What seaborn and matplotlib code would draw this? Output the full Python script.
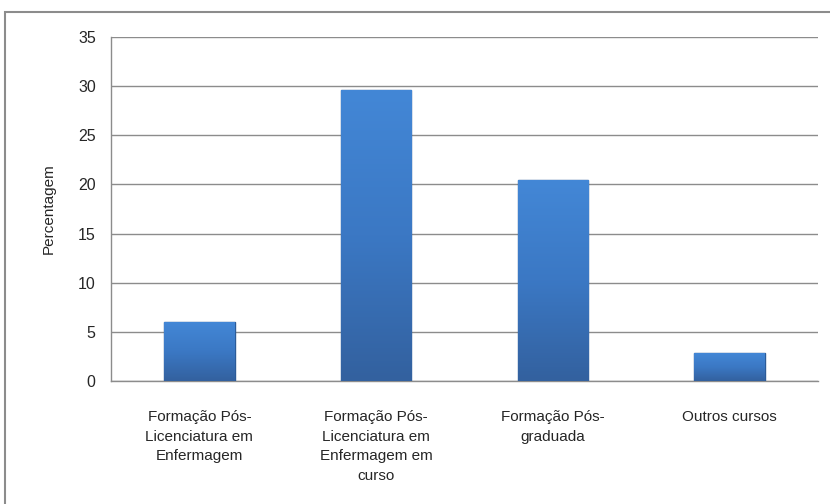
import numpy as np
import pandas as pd
import matplotlib
matplotlib.use('Agg')
import matplotlib.pyplot as plt
from matplotlib.colors import LinearSegmentedColormap
import seaborn as sns

categories = ['Formação Pós-\nLicenciatura em\nEnfermagem',
              'Formação Pós-\nLicenciatura em\nEnfermagem em\ncurso',
              'Formação Pós-\ngraduada',
              'Outros cursos']
values = [6.0, 29.6, 20.4, 2.8]
y_ticks = [0, 5, 10, 15, 20, 25, 30, 35]

sns.set_style('white')
plt.rcParams['font.family'] = ['Liberation Sans', 'DejaVu Sans']

data = pd.DataFrame({'Categoria': categories, 'Percentagem': values})

fig = plt.figure(figsize=(8.3, 5.04), dpi=100)
ax = fig.add_axes([111 / 830, 1 - 381 / 504, (818 - 111) / 830, (381 - 37) / 504])

sns.barplot(data=data, x='Categoria', y='Percentagem', color='#3a78c6', saturation=1,
            width=0.4, edgecolor='#2b5b98', linewidth=1, ax=ax, zorder=3)

# gradient fill inside each bar (lighter at top, darker at bottom)
grad = LinearSegmentedColormap.from_list('g', ['#33619f', '#3b78c4', '#4387d6'])
for p in ax.patches:
    x0, y0 = p.get_x(), p.get_y()
    w, h = p.get_width(), p.get_height()
    img = ax.imshow(np.linspace(0, 1, 100).reshape(-1, 1), cmap=grad, origin='lower',
                    extent=[x0, x0 + w, y0, y0 + h], aspect='auto', zorder=3.5)
    img.set_clip_path(p)

ax.set_ylim(0, 35)
ax.set_xlim(-0.5, 3.5)
ax.set_yticks(y_ticks)
ax.yaxis.grid(True, color='#8c8c8c', linewidth=1, zorder=0)
ax.set_axisbelow(True)

for s in ['top', 'right']:
    ax.spines[s].set_visible(False)
for s in ['left', 'bottom']:
    ax.spines[s].set_color('#8c8c8c')
    ax.spines[s].set_linewidth(1)

ax.set_xticks(np.arange(len(categories)))
ax.set_xticklabels(categories, fontsize=11, linespacing=1.5, va='top')
ax.tick_params(axis='x', length=0, pad=21)
ax.set_xticks([-0.5, 0.5, 1.5, 2.5, 3.5], minor=True)
ax.tick_params(axis='x', which='minor', length=7, color='#8c8c8c', direction='out')
ax.tick_params(axis='y', length=6, color='#8c8c8c', direction='out', labelsize=11.5, pad=5)
ax.set_xlabel('')
ax.set_ylabel('Percentagem', fontsize=11, labelpad=16)

border = plt.Rectangle((5 / 830, -0.01), 1.0, 1 - 12 / 504 + 0.01, transform=fig.transFigure,
                       fill=False, edgecolor='#8c8c8c', linewidth=1.5)
fig.patches.append(border)

fig.savefig('out.png', dpi=100)
